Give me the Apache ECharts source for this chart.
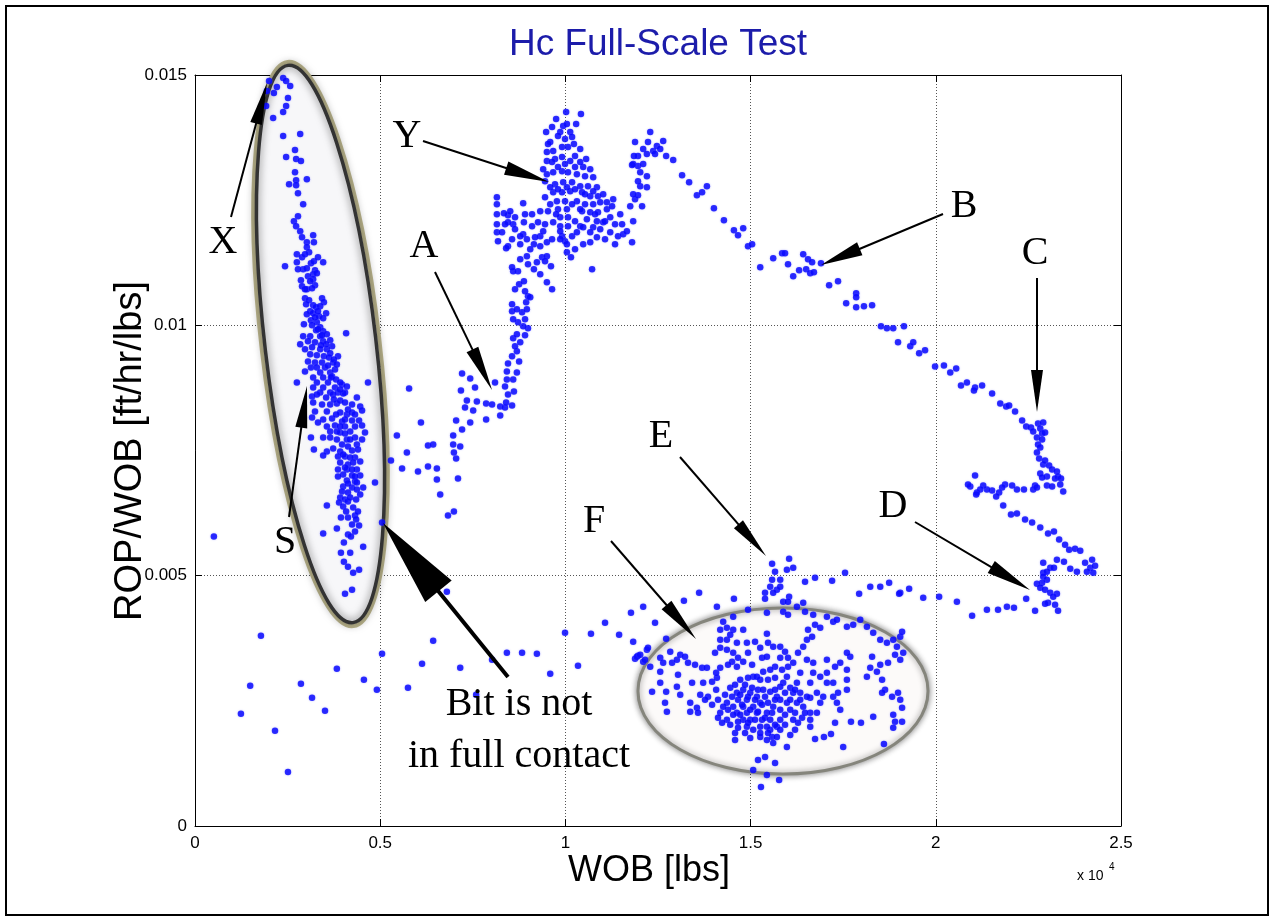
<!DOCTYPE html>
<html><head><meta charset="utf-8">
<script src="https://cdn.jsdelivr.net/npm/echarts@6/dist/echarts.min.js"></script>
<style>html,body{margin:0;padding:0;background:#fff}#c{width:1275px;height:922px}</style>
</head><body><div id="c"></div>
<script>
// ---------- data (WOB in lbs, ROP/WOB in ft/hr/lbs) ----------
const xTickLabels = ['0','0.5','1','1.5','2','2.5'];
const yTickLabels = ['0','0.005','0.01','0.015'];

const sCluster = [[2000,0.01488],[1940,0.01468],[2130,0.01464],[2210,0.01476],[2380,0.01494],[2460,0.01488],[2570,0.01478],[2510,0.01454],[2460,0.01438],[2380,0.01426],[2110,0.01414],[1920,0.01438],[2380,0.01378],[2840,0.01382],[2700,0.0135],[2460,0.01336],[2730,0.01332],[2860,0.01328],[2700,0.01306],[2730,0.0129],[3020,0.01292],[2540,0.01282],[2730,0.0128],[2780,0.01264],[2920,0.01242],[2780,0.01218],[2670,0.01208],[2730,0.01198],[2840,0.01188],[2890,0.01176],[3190,0.0118],[3020,0.01166],[3210,0.01166],[3020,0.01156],[3080,0.01146],[2750,0.01142],[2890,0.01136],[2750,0.01126],[3130,0.01124],[3210,0.01128],[3460,0.01126],[2430,0.01118],[2920,0.01112],[3020,0.01114],[3240,0.0111],[3190,0.01102],[3290,0.01104],[3050,0.01098],[2860,0.0109],[3190,0.01092],[2890,0.01078],[3240,0.0108],[3020,0.01072],[3160,0.01074],[2970,0.01054],[3430,0.01054],[3080,0.0105],[3000,0.01042],[3190,0.0104],[3480,0.01046],[3270,0.01036],[3380,0.01038],[3110,0.01028],[3020,0.01022],[3190,0.01024],[3540,0.01024],[3350,0.01018],[3460,0.01014],[3130,0.0101],[3290,0.01006],[2940,0.01002],[3160,0.01],[3380,0.00996],[3270,0.0099],[3460,0.00988],[4080,0.00984],[2920,0.00978],[3110,0.00978],[3380,0.00978],[3560,0.00982],[3050,0.00968],[3240,0.00966],[3460,0.00968],[3650,0.0097],[3700,0.00958],[3160,0.00956],[3380,0.00952],[3560,0.00952],[3110,0.00942],[3290,0.0094],[3480,0.00938],[3650,0.00944],[3860,0.00938],[3050,0.00928],[3240,0.00926],[3430,0.00926],[3730,0.00926],[3130,0.00916],[3290,0.00916],[3510,0.00916],[2970,0.00908],[3380,0.00906],[3650,0.00906],[3780,0.00912],[3190,0.00896],[3460,0.00896],[3700,0.00898],[2750,0.00886],[3290,0.00886],[3590,0.00886],[3970,0.00882],[4670,0.00886],[3190,0.00876],[3460,0.00876],[3780,0.00876],[4100,0.00878],[3380,0.00866],[3650,0.00866],[3860,0.00866],[4050,0.00866],[4370,0.00856],[3160,0.00858],[3290,0.00862],[3730,0.00862],[4000,0.00864],[3190,0.00846],[3430,0.00842],[3650,0.00842],[3830,0.00844],[4240,0.00842],[4460,0.00838],[3240,0.00828],[3560,0.00828],[3920,0.00826],[4100,0.00822],[4510,0.0083],[3160,0.00816],[3460,0.00812],[3700,0.00814],[3970,0.00808],[4240,0.0081],[4430,0.0081],[3320,0.00806],[3560,0.00798],[3780,0.008],[4050,0.00798],[4510,0.008],[4190,0.00788],[4590,0.00786],[3650,0.00788],[3920,0.00786],[3130,0.00776],[3460,0.00776],[3650,0.00776],[3830,0.00772],[4100,0.00772],[4320,0.00776],[4510,0.00772],[3970,0.00762],[4130,0.00758],[4370,0.00762],[3210,0.00752],[3560,0.00748],[3730,0.00754],[3920,0.00748],[4240,0.0075],[4400,0.00752],[3460,0.0074],[3860,0.00738],[4050,0.00738],[4320,0.00736],[4460,0.00728],[3920,0.00726],[4130,0.00722],[3860,0.00712],[4100,0.00712],[4370,0.00712],[4000,0.00702],[4240,0.007],[4460,0.007],[3860,0.00698],[4100,0.0069],[4320,0.00688],[4860,0.00686],[4000,0.00678],[4240,0.00676],[4540,0.00676],[4370,0.00672],[3970,0.00668],[4130,0.00666],[4460,0.00662],[3920,0.00656],[4050,0.00652],[3890,0.00646],[4000,0.00638],[3560,0.0064],[4130,0.00648],[3940,0.00616],[4130,0.00616],[4320,0.0062],[4350,0.00612],[4240,0.00602],[4430,0.006],[3830,0.00594],[4320,0.00588],[4130,0.00582],[4210,0.00578],[3460,0.00584],[5050,0.00606],[4540,0.00558],[4020,0.00566],[3940,0.00546],[4190,0.00546],[4020,0.00528],[4130,0.00518],[4430,0.00512],[4270,0.00506],[4050,0.00464],[4240,0.00472],
[3320,0.00992],[3430,0.0098],[3540,0.00962],[3400,0.0096],[3620,0.00936],[3750,0.00932],[3830,0.00922],[3590,0.0092],[3670,0.00896],[3810,0.00892],[3920,0.00886],[3920,0.00872],[3540,0.00856],[3750,0.00852],[3920,0.0085],[4050,0.00846],[4130,0.00832],[3810,0.00822],[4240,0.00826],[4320,0.00822],[4050,0.00812],[3830,0.00788],[4050,0.00784],[4320,0.00798],[3920,0.00798],[4190,0.00772],[4000,0.00742],[4190,0.00736],[4270,0.00726],[4050,0.00716],[4240,0.00712],[4320,0.00698],[4130,0.00684],[4370,0.00686],[4190,0.00656],[4350,0.00652],[4270,0.00636],[4080,0.00628],[4400,0.00628],[2970,0.00952],[2840,0.00962],[3240,0.01016],[3320,0.01028],[2970,0.01072],[3110,0.01088],[2780,0.01112],[2970,0.01142],[3320,0.01136]];

const lowScatter = [[510,0.00578],[1780,0.0038],[1490,0.0028],[1240,0.00224],[2160,0.0019],[2510,0.00108],[2860,0.00284],[3160,0.00256],[3510,0.0023],[3830,0.00314],[4560,0.00292],[4910,0.00272],[5050,0.00344],[5750,0.00276],[6130,0.00324],[6430,0.0037],[6800,0.00468],[7160,0.00316],[7590,0.00262],[8020,0.00332],[8420,0.00346],[8830,0.00346],[9230,0.00344],[9590,0.00304],[9990,0.00386],[10340,0.0032],[10690,0.00384],[11070,0.00406],[11450,0.00382],[11770,0.00426],[11830,0.00368],[12100,0.00438],[11880,0.00334],[11960,0.0034],[12100,0.00328],[12200,0.00352]];

const aBranch = [[5780,0.00874],[6100,0.00806],[5450,0.0078],[5290,0.0073],[5720,0.00746],[5590,0.00714],[6020,0.00708],[6290,0.0076],[6430,0.00762],[6290,0.00718],[6530,0.00714],[6530,0.00692],[6620,0.00662],[6830,0.0062],[6990,0.00628],[7100,0.00694],[7050,0.00734],[6990,0.00746],[7160,0.00758],[6970,0.00762],[6970,0.0078],[7210,0.00792],[7050,0.0081],[7430,0.00806],[7290,0.00836],[7510,0.0083],[7340,0.0085],[7610,0.00848],[7860,0.00812],[7860,0.00844],[8020,0.00842],[8240,0.0082],[8240,0.00838],[8100,0.00886],[7560,0.00876],[7180,0.0087],[7430,0.00894],[7210,0.00904],[8370,0.00878],[8420,0.00892],[8370,0.00836],[8400,0.00846],[8560,0.0084],[8450,0.00862],[8610,0.00868],[8590,0.00892],[8420,0.00908],[8690,0.00906],[8450,0.00924],[8750,0.00928],[8560,0.00938],[8690,0.00948],[8640,0.00958],[8780,0.00966],[8590,0.00974],[8690,0.00982],[8910,0.0098],[8990,0.00994],[8860,0.00998],[8720,0.01006],[8910,0.01012],[8590,0.01012],[8830,0.01026],[8560,0.01028],[8690,0.01032],[8960,0.01032],[8560,0.01042],[8940,0.01046],[8990,0.01058],[9050,0.01056],[8910,0.01068],[8750,0.01082],[8640,0.01072],[8880,0.01088],[8720,0.01108],[8590,0.01108],[8560,0.01116],[8960,0.01138],[9150,0.01112],[9230,0.01126],[9370,0.01136],[9500,0.01138],[9610,0.01118],[9500,0.01086],[9640,0.01072],[9150,0.01162],[9320,0.01158],[9500,0.01166],[9320,0.01178],[9400,0.01188],[9100,0.01198],[9260,0.01206],[8860,0.01182],[8960,0.01172],[8780,0.01178],[8880,0.01206],[8590,0.01202],[8450,0.01206],[8450,0.0122],[8640,0.01216],[8510,0.01228],[8340,0.01224],[8150,0.01222],[8150,0.01242],[8150,0.01256],[8150,0.01202],[8150,0.01186],[8290,0.01186],[8180,0.01168],[8450,0.01158],[8400,0.01154],[8860,0.01244],
[8370,0.01202],[8640,0.01192],[8780,0.01162],[9050,0.01152],[9180,0.01176],[9450,0.01128],[8990,0.01122],[9320,0.01102],[8780,0.01132],[8560,0.01172],[8910,0.01222],[9100,0.01222],[9320,0.01228],[9450,0.01202]];

const yCluster = [[10020,0.01426],[10420,0.01422],[9940,0.01398],[10290,0.01402],[9480,0.01386],[9860,0.01386],[10130,0.01386],[9590,0.01366],[9990,0.01372],[10180,0.01376],[10400,0.01352],[9500,0.01346],[9670,0.01348],[9910,0.01356],[10070,0.01356],[10260,0.01338],[9500,0.01328],[9720,0.01332],[9910,0.01336],[10130,0.01328],[10480,0.01316],[10670,0.01312],[9500,0.01302],[9670,0.01306],[9910,0.01308],[10070,0.01306],[10310,0.01302],[10530,0.01298],[10750,0.01296],[9720,0.01282],[9940,0.01286],[10180,0.01286],[10400,0.01278],[10610,0.01278],[10850,0.01276],[9670,0.01266],[9910,0.01266],[10130,0.01268],[10450,0.01266],[10670,0.01258],[10880,0.01258],[9770,0.01248],[9990,0.01248],[10310,0.01248],[10530,0.01242],[10750,0.01242],[10940,0.01246],[11290,0.01252],[9800,0.01232],[10040,0.01232],[10450,0.01228],[10670,0.01226],[10880,0.01226],[11120,0.01232],[11210,0.01216],[9860,0.01216],[10070,0.01216],[10580,0.01212],[10850,0.01208],[11020,0.01206],[9670,0.01206],[9860,0.01198],[10070,0.01198],[10750,0.01196],[10940,0.01192],[11210,0.01186],[10670,0.01186],[9910,0.01178],[10180,0.01178],[9990,0.01168],[10040,0.01162],[9860,0.01172],[10040,0.01146],[10150,0.01136],[10720,0.01112],[10400,0.01198],[10310,0.01186],[11420,0.01178],[11560,0.01182],[11660,0.01188],[11800,0.01166],[11830,0.01208],[11750,0.01238],[11880,0.01252],[12070,0.01238],[11960,0.0126],[11830,0.01262],[12020,0.01278],[11960,0.01288],[12200,0.01298],[12020,0.01306],[11960,0.01318],[12100,0.01322],[11830,0.01322],[11960,0.01338],[11850,0.01338],[11800,0.0132],[12200,0.01276],[11880,0.01366],[12100,0.01352],[12230,0.01366],[12290,0.01386],[12200,0.01342],[12370,0.01348],[12420,0.01342],[12470,0.01358],[12560,0.01352],[12640,0.01368],[12720,0.01338],[12910,0.0133],[13150,0.013],[13340,0.01286],[13550,0.0126],
[9750,0.01412],[9640,0.01396],[9800,0.01378],[10040,0.01402],[10230,0.01362],[9640,0.01326],[9800,0.01316],[9990,0.01322],[10260,0.01316],[10400,0.01326],[10560,0.01332],[9450,0.01288],[9590,0.01276],[9800,0.01272],[10040,0.01276],[10260,0.01272],[10530,0.01262],[10750,0.01268],[11020,0.01262],[11120,0.01246],[9590,0.01242],[10180,0.01242],[10400,0.01232],[10800,0.01222],[11070,0.01208],[11340,0.01202],[11480,0.01222],[11260,0.01238],[9750,0.01222],[10260,0.01208],[10480,0.01196],[10850,0.01176],[11070,0.01172],[9860,0.01188],[9640,0.01172],[10260,0.01152],[10480,0.01162],[10670,0.01166],[11340,0.01162],[11530,0.01202],[9530,0.01228],[9450,0.01256],[9400,0.01312],[9530,0.01362]];

const bBranch = [[13690,0.01266],[13820,0.01278],[14010,0.01234],[14280,0.0121],[14550,0.0119],[14660,0.0118],[14800,0.01194],[14930,0.01158],[15040,0.01162],[15260,0.01116],[15610,0.01134],[15850,0.01144],[15930,0.01144],[16010,0.01122],[16150,0.01098],[16310,0.0111],[16420,0.01142],[16550,0.01132],[16660,0.01126],[16500,0.01112],[16610,0.01104],[16710,0.01106],[16900,0.01124],[17120,0.0108],[17360,0.01088],[17580,0.01044],[17850,0.01064],[17850,0.01056],[17850,0.01036],[18060,0.01038],[18280,0.0104],[18520,0.00998],[18680,0.00994],[18850,0.00994],[19140,0.00998],[18980,0.00966],[19310,0.00958],[19390,0.00966],[19550,0.00944],[19710,0.0095],[19980,0.00918],[20220,0.0092],[20390,0.00906],[20550,0.00914],[20680,0.0088],[20840,0.00886],[21060,0.00876],[21250,0.0088],[21030,0.0087],[21520,0.00864],[21740,0.00844],[21900,0.00838],[21980,0.0084],[22140,0.00828],[22330,0.0081],[22440,0.00798]];

const cdBranch = [[22570,0.00796],[22630,0.00788],[22760,0.00804],[22900,0.00806],[22820,0.00794],[22870,0.00784],[22950,0.00786],[22730,0.00776],[22870,0.00772],[22760,0.00762],[22820,0.00756],[22730,0.00746],[22790,0.00734],[22900,0.00722],[22950,0.0073],[23060,0.0072],[23140,0.00712],[23270,0.00708],[23300,0.00698],[23220,0.00694],[23380,0.00694],[22820,0.00704],[23000,0.00698],[22870,0.00696],[23000,0.0068],[23140,0.00678],[23360,0.00682],[23440,0.00668],[22680,0.0068],[22630,0.00672],[22730,0.00676],[22380,0.00672],[22190,0.00672],[22060,0.0068],[21870,0.00682],[21790,0.00676],[21710,0.00666],[21630,0.00658],[21520,0.0067],[21380,0.00672],[21280,0.0068],[21200,0.00672],[21110,0.00666],[21090,0.00662],[20930,0.00678],[20870,0.00682],[21060,0.007],[21820,0.0064],[22030,0.00622],[22190,0.00624],[22410,0.00612],[22600,0.00606],[22820,0.00596],[23030,0.00584],[23190,0.00588],[23330,0.00572],[23490,0.00562],[23600,0.00552],[23760,0.00554],[23900,0.0055],[23270,0.00532],[23460,0.00528],[22900,0.00526],[23090,0.00516],[23190,0.00516],[22900,0.00506],[23000,0.00508],[23630,0.00514],[23810,0.00508],[24030,0.00526],[24220,0.00532],[24170,0.00516],[24300,0.0052],[24080,0.00508],[24250,0.00506],[22900,0.00498],[23000,0.00492],[22870,0.00486],[22730,0.00484],[22820,0.00476],[22950,0.00472],[23090,0.00466],[23270,0.00464],[23170,0.00458],[23030,0.00446],[22950,0.00444],[23220,0.00442],[23300,0.0043],[22680,0.0043],[22440,0.00454],[22110,0.00436],[21920,0.00438],[21680,0.00432],[21380,0.00432],[20980,0.0042],[20570,0.00448],[20090,0.00458],[19660,0.00456],[19280,0.00474],[19040,0.00466],[17550,0.00506],[17200,0.0049],[16740,0.00496],[16470,0.00488],[17930,0.00464],[18230,0.00478],[18500,0.00478],[18740,0.00486],[19010,0.00464]];

const efCluster = [[15580,0.00524],[16040,0.00534],[15660,0.00508],[15980,0.00512],[16150,0.00516],[15580,0.00492],[15800,0.00492],[15530,0.00478],[15710,0.00472],[15390,0.00466],[15610,0.00466],[15800,0.00478],[16040,0.00458],[15390,0.00454],[15880,0.00448],[16010,0.00448],[16420,0.00446],[15440,0.00426],[15880,0.00428],[16010,0.00422],[16250,0.00438],[16470,0.00428],[16690,0.00422],[12420,0.00406],[12720,0.00374],[13200,0.0045],[13610,0.00466],[14090,0.00438],[14550,0.00454],[14530,0.00418],[14930,0.00432],[11930,0.00338],[12020,0.00342],[12230,0.00356],[12150,0.00332],[12290,0.00318],[12560,0.00336],[12560,0.00308],[12640,0.00326],[12830,0.00348],[12880,0.00326],[13010,0.00332],[13100,0.00342],[13230,0.00338],[13310,0.00326],[13500,0.00322],[13690,0.00316],[13820,0.00316],[13040,0.00302],[13420,0.00286],[13720,0.00286],[13960,0.00288],[14090,0.00296],[12560,0.00286],[12340,0.00268],[12720,0.00268],[13010,0.00278],[13100,0.00262],[12690,0.00246],[12740,0.00228],[13370,0.00246],[13550,0.00236],[13370,0.00228],[13580,0.00226],[13850,0.00258],[14070,0.00272],[14070,0.00306],[14180,0.00316],[14040,0.00346],[14180,0.00356],[14360,0.00352],[14530,0.00346],[14180,0.00372],[14360,0.00372],[14180,0.00392],[14360,0.00396],[14530,0.00392],[14260,0.00408],[14450,0.00382],[14800,0.00392],[14630,0.00366],[14500,0.00328],[14660,0.00336],[14390,0.00322],[14630,0.00318],[14800,0.00328],[14930,0.00346],[14900,0.00366],[15120,0.00368],[15260,0.00356],[15440,0.00384],[15470,0.00366],[15310,0.00336],[15040,0.00322],[15070,0.00298],[15440,0.00338],[15610,0.00358],[15800,0.00358],[15930,0.00348],[16010,0.00336],[15800,0.00336],[15660,0.00318],[15850,0.00312],[16010,0.00318],[16150,0.00326],[16280,0.00346],[16420,0.00358],[16520,0.00372],[16660,0.00378],[16550,0.00392],[16740,0.00402],[16880,0.00396],[17060,0.00418],[17230,0.00408],[17330,0.00412],[17600,0.00398],[17770,0.00402],[17960,0.00412],[18140,0.00398],[18310,0.00386],[18500,0.00372],[18680,0.00366],[18850,0.00372],[19040,0.00378],[19090,0.00388],[18950,0.00358],[19120,0.00346],[19040,0.00332],[18900,0.00342],[18710,0.00326],[18500,0.00322],[18280,0.00338],[18230,0.00316],[18140,0.00298],[18410,0.00308],[18550,0.00292],[18630,0.00272],[18550,0.00266],[18820,0.00258],[18980,0.00266],[19040,0.00252],[19090,0.00236],[18850,0.00222],[18900,0.00208],[19090,0.00208],[18850,0.00196],[18600,0.00164],[18310,0.00218],[17980,0.00206],[17710,0.00208],[17500,0.00158],[17280,0.00206],[17170,0.00184],[16980,0.00178],[16740,0.00174],[16610,0.00198],[16790,0.00226],[16880,0.00246],[16960,0.00258],[16790,0.00266],[16610,0.00256],[17230,0.00258],[17360,0.00266],[17330,0.00246],[17420,0.00232],[17600,0.00272],[17600,0.00292],[17600,0.00312],[17690,0.00338],[17600,0.00346],[17420,0.00326],[17280,0.00318],[17060,0.00332],[17060,0.00306],[16880,0.00298],[17060,0.00286],[17230,0.00286],[16690,0.00306],[16610,0.00286],[16690,0.00326],[16520,0.00332],[16340,0.00306],[16250,0.00286],[16340,0.00266],[16520,0.00258],[16150,0.00266],[16250,0.00246],[16420,0.00238],[16200,0.00226],[16390,0.00216],[16610,0.00226],[16280,0.00206],[16150,0.00212],[15980,0.00246],[16070,0.00276],[15880,0.00286],[15980,0.00298],[15800,0.00278],[15710,0.00258],[15800,0.00252],[15610,0.00238],[15800,0.00232],[15580,0.00226],[15800,0.00212],[15710,0.00198],[15530,0.00192],[15580,0.00178],[15710,0.00178],[15800,0.00192],[15980,0.00158],[15610,0.00166],[15440,0.00198],[15260,0.00198],[15310,0.00212],[15440,0.00226],[15170,0.00226],[15070,0.00238],[15260,0.00246],[15390,0.00258],[15170,0.00258],[14990,0.00266],[14800,0.00272],[14900,0.00252],[14800,0.00238],[14630,0.00266],[14660,0.00252],[14500,0.00258],[14530,0.00238],[14360,0.00246],[14390,0.00232],[14630,0.00226],[14900,0.00226],[14990,0.00212],[14800,0.00212],[14660,0.00208],[14900,0.00198],[15070,0.00192],[15260,0.00178],[15440,0.00172],[14360,0.00212],[14230,0.00206],[14180,0.00226],[14260,0.00238],[14120,0.00252],[14580,0.00186],[14580,0.00172],[14990,0.00176],[15200,0.00132],[15390,0.00138],[15660,0.00126],[15070,0.00112],[15440,0.00102],[15770,0.00092],[15280,0.00078],
[14850,0.00282],[15040,0.00276],[15200,0.00272],[15340,0.00272],[15530,0.00268],[15660,0.00272],[14720,0.00262],[14930,0.00258],[15120,0.00252],[15310,0.00242],[15470,0.00246],[15660,0.00252],[14770,0.00242],[14990,0.00232],[15200,0.00228],[15390,0.00216],[15530,0.00212],[15120,0.00212],[14930,0.00206],[14720,0.00222],[14530,0.00222],[14310,0.00262],[14450,0.00276],[15260,0.00292],[15470,0.00292],[15660,0.00296],[15530,0.00312],[15340,0.00308],[15170,0.00298],[14930,0.00296],[14720,0.00292],[14580,0.00282],[15930,0.00266],[16070,0.00252],[16070,0.00232],[15930,0.00222],[15930,0.00202],[15660,0.00202],[15470,0.00186],[15260,0.00186],[14850,0.00186],[14660,0.00196],[14450,0.00202],[14120,0.00216],[13960,0.00242],[13770,0.00252],[13640,0.00262],[16200,0.00272],[16340,0.00252],[16470,0.00226],[16610,0.00212],[16200,0.00192],[16070,0.00182]];

const allPoints = [].concat(sCluster, lowScatter, aBranch, yCluster, bBranch, cdBranch, efCluster);

// ---------- annotation layout (pixels) ----------
const FONT = "'Liberation Sans', Arial, Helvetica, sans-serif";
const SERIF = "'Liberation Serif', 'Times New Roman', serif";

function arrow(x1, y1, x2, y2, hl, hw, lw) {
  const dx = x2 - x1, dy = y2 - y1, L = Math.hypot(dx, dy);
  const ux = dx / L, uy = dy / L, px = -uy, py = ux;
  const bx = x2 - ux * hl, by = y2 - uy * hl;
  return [
    {type: 'line', z: 20, shape: {x1: x1, y1: y1, x2: bx + ux * 3, y2: by + uy * 3},
      style: {stroke: '#000', lineWidth: lw}},
    {type: 'polygon', z: 20, shape: {points: [[x2, y2], [bx + px * hw / 2, by + py * hw / 2], [bx - px * hw / 2, by - py * hw / 2]]},
      style: {fill: '#000'}}
  ];
}
function label(t, x, y) {
  return {type: 'text', z: 20, x: x, y: y,
    style: {text: t, font: '40px ' + SERIF, fill: '#000', textAlign: 'center', textVerticalAlign: 'middle'}};
}

const graphics = [];
// outer frame
graphics.push({type: 'rect', z: 0, shape: {x: 6, y: 6, width: 1262, height: 909},
  style: {fill: null, stroke: '#000', lineWidth: 2}});
// ellipse around left cluster
graphics.push({type: 'ellipse', z: 1, x: 320.5, y: 344, rotation: 0.116,
  shape: {cx: 0, cy: 0, rx: 56, ry: 281}, style: {fill: '#f7f7f9', stroke: null}});
graphics.push({type: 'ellipse', z: 1, x: 320.5, y: 344, rotation: 0.116,
  shape: {cx: 0, cy: 0, rx: 59, ry: 284}, style: {fill: null, stroke: '#bdb78e', lineWidth: 4}});
graphics.push({type: 'ellipse', z: 1, x: 320.5, y: 344, rotation: 0.116,
  shape: {cx: 0, cy: 0, rx: 55.5, ry: 280.5}, style: {fill: null, stroke: '#333', lineWidth: 3.5,
  shadowBlur: 8, shadowColor: 'rgba(0,0,0,0.6)'}});
// ellipse around F cluster
graphics.push({type: 'ellipse', z: 1, x: 783, y: 691,
  shape: {cx: 0, cy: 0, rx: 145, ry: 83}, style: {fill: '#fcfaf9', stroke: '#85857c', lineWidth: 3,
  shadowBlur: 6, shadowColor: 'rgba(0,0,0,0.45)'}});

// arrows
[
  [231, 217, 267, 83, 42, 12, 2],
  [423, 141, 549, 182, 45, 14, 2],
  [435, 272, 492, 390, 45, 13, 2],
  [943, 214, 821, 265, 42, 14, 2],
  [1037, 278, 1037, 412, 42, 12, 2],
  [915, 522, 1030, 590, 45, 14, 2],
  [680, 457, 766, 556, 42, 12, 2],
  [611, 541, 696, 639, 45, 13, 2],
  [289, 517, 307, 386, 42, 12, 2],
  [508, 677, 383, 523, 88, 34, 4]
].forEach(a => arrow.apply(null, a).forEach(g => graphics.push(g)));

// letters
[['X', 223, 242], ['Y', 407, 136], ['A', 424, 246], ['B', 964, 206], ['C', 1035, 253],
 ['D', 893, 506], ['E', 661, 436], ['F', 594, 521], ['S', 285, 542]]
  .forEach(l => graphics.push(label(l[0], l[1], l[2])));
graphics.push(label('Bit is not', 519, 704));
graphics.push(label('in full contact', 519, 756));

// title, axis names, exponent
graphics.push({type: 'text', z: 20, x: 658, y: 45,
  style: {text: 'Hc Full-Scale Test', font: '37px ' + FONT, fill: '#1c1caa', textAlign: 'center', textVerticalAlign: 'middle'}});
graphics.push({type: 'text', z: 20, x: 649, y: 871,
  style: {text: 'WOB [lbs]', font: '36px ' + FONT, fill: '#000', textAlign: 'center', textVerticalAlign: 'middle'}});
graphics.push({type: 'text', z: 20, x: 131, y: 451, rotation: Math.PI / 2,
  style: {text: 'ROP/WOB [ft/hr/lbs]', font: '38px ' + FONT, fill: '#000', textAlign: 'center', textVerticalAlign: 'middle'}});
graphics.push({type: 'text', z: 20, x: 1077, y: 876,
  style: {text: 'x 10', font: '14px ' + FONT, fill: '#000', textAlign: 'left', textVerticalAlign: 'middle'}});
graphics.push({type: 'text', z: 20, x: 1109, y: 867,
  style: {text: '4', font: '10px ' + FONT, fill: '#000', textAlign: 'left', textVerticalAlign: 'middle'}});

const tickStyle = {show: true, inside: true, length: 7, lineStyle: {color: '#000', width: 1}};
const axisLineStyle = {show: true, onZero: false, lineStyle: {color: '#000', width: 1}};
const gridLine = {show: true, lineStyle: {color: '#555', width: 1, type: [1, 2]}};

const chart = echarts.init(document.getElementById('c'), null, {renderer: 'canvas'});
chart.setOption({
  animation: false,
  backgroundColor: '#fff',
  grid: {left: 195, top: 75, width: 926, height: 751, show: false},
  xAxis: [
    {type: 'value', min: 0, max: 25000, interval: 5000, position: 'bottom',
     axisLine: axisLineStyle, axisTick: tickStyle, splitLine: gridLine,
     axisLabel: {color: '#000', fontSize: 17, fontFamily: FONT, margin: 9,
       formatter: (v) => xTickLabels[Math.round(v / 5000)]}},
    {type: 'value', min: 0, max: 25000, interval: 5000, position: 'top',
     axisLine: axisLineStyle, axisTick: tickStyle, splitLine: {show: false}, axisLabel: {show: false}}
  ],
  yAxis: [
    {type: 'value', min: 0, max: 0.015, interval: 0.005, position: 'left',
     axisLine: axisLineStyle, axisTick: tickStyle, splitLine: gridLine,
     axisLabel: {color: '#000', fontSize: 17, fontFamily: FONT, margin: 8,
       formatter: (v) => yTickLabels[Math.round(v / 0.005)]}},
    {type: 'value', min: 0, max: 0.015, interval: 0.005, position: 'right',
     axisLine: axisLineStyle, axisTick: tickStyle, splitLine: {show: false}, axisLabel: {show: false}}
  ],
  graphic: {elements: graphics},
  series: [{
    type: 'scatter', xAxisIndex: 0, yAxisIndex: 0, z: 5,
    symbol: 'circle', symbolSize: 6.5,
    itemStyle: {color: '#0000ff', shadowBlur: 2, shadowColor: 'rgba(120,120,255,0.6)'},
    emphasis: {disabled: true},
    data: allPoints
  }]
});
</script></body></html>
